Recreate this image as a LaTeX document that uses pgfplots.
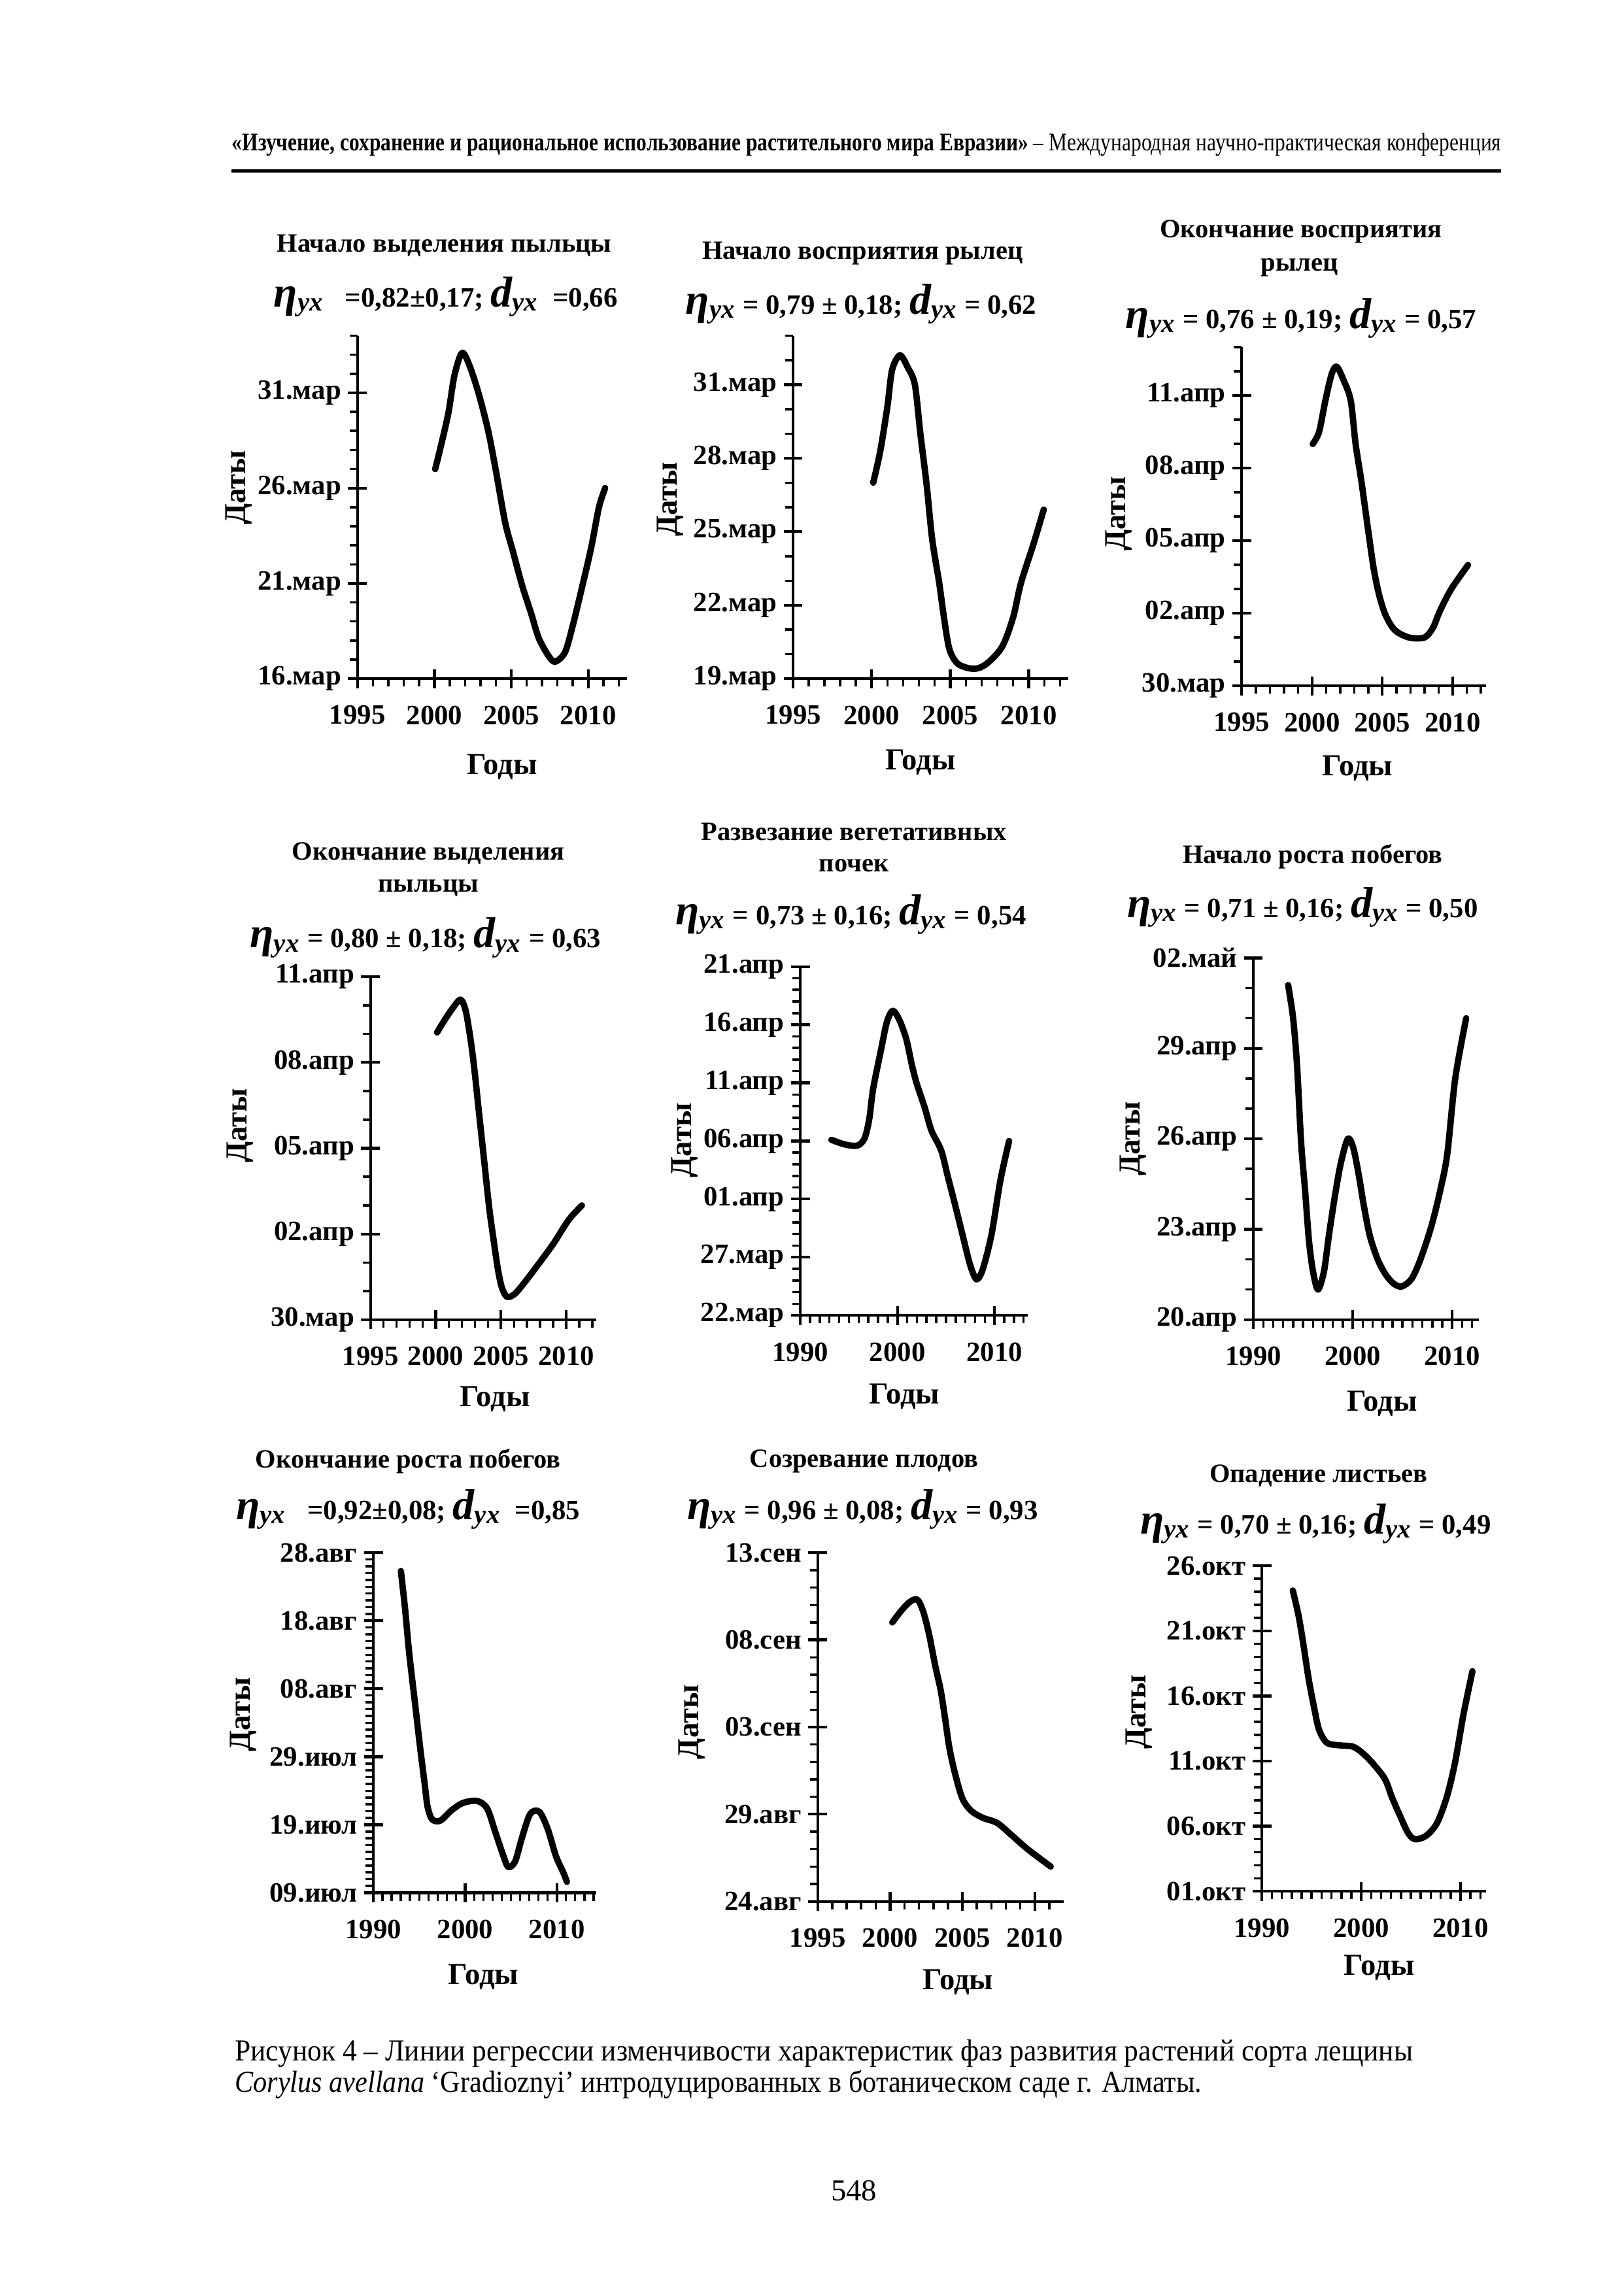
\documentclass[border=0pt]{standalone}
\usepackage{fontspec}
\setmainfont{Liberation Serif}
\usepackage{pgfplots}
\pgfplotsset{compat=1.18}

\pgfplotsset{
 crv/.style={black, no markers, line width=2.5pt, smooth, line cap=round, line join=round},
 panel/.style={
   scale only axis, anchor=south west,
   axis lines=left, axis line style={-, line width=1.1pt},
   tick align=center, major tick length=0.26cm,
   tick style={line width=1.1pt, black},
   extra x tick style={tick align=outside, major tick length=0.11cm, tick style={line width=0.9pt}},
   extra y tick style={tick align=outside, major tick length=0.11cm, tick style={line width=0.9pt}},
   extra x tick labels={}, extra y tick labels={},
   tick label style={font=\fontsize{11}{12}\selectfont\bfseries},
   xticklabel style={yshift=-0.12cm},
   yticklabel style={xshift=0.03cm},
   clip=false,
 }
}
\newcommand\ttl{\fontsize{10.4}{12}\selectfont\bfseries}
\newcommand\lbl{\fontsize{12}{13}\selectfont\bfseries}
\newcommand\frm[2]{{\fontsize{17}{17}\selectfont\bfseries\itshape η}\textsubscript{\fontsize{10.5}{11}\selectfont\bfseries\itshape yx}#1{\fontsize{17}{17}\selectfont\bfseries\itshape d}\textsubscript{\fontsize{10.5}{11}\selectfont\bfseries\itshape yx}#2}
\newcommand\ff{\fontsize{11}{13}\selectfont\bfseries}

\begin{document}
\begin{tikzpicture}
\fill[white] (0,0) rectangle (22.44,31.36);
\path[use as bounding box] (0,0) rectangle (22.44,31.36);

% header
\node[anchor=base west, inner sep=0] at (3.2,29.28) {\resizebox{17.54cm}{\height}{\fontsize{10}{12}\selectfont{\bfseries «Изучение, сохранение и рациональное использование растительного мира Евразии»} – Международная научно-практическая конференция}};
\draw[line width=1.3pt] (3.2,29.0) -- (20.74,29.0);

% ---------- Panel 1 ----------
\node[font=\ttl] at (6.14,27.96) {Начало выделения пыльцы};
\node[font=\ff] at (6.16,27.26) {\frm{\ \ \ =0,82±0,17; }{\ \ =0,66}};
\begin{axis}[panel, at={(4.94cm,21.98cm)}, width=3.72cm, height=4.74cm,
 xmin=1995, xmax=2012.5, ymin=16, ymax=34,
 xtick={1995,2000,2005,2010}, xticklabels={1995,2000,2005,2010},
 ytick={16,21,26,31}, yticklabels={16.мар,21.мар,26.мар,31.мар},
 extra x ticks={1996,...,2012}, extra y ticks={17,...,34}]
\addplot[crv] coordinates {(2000.05,27.0) (2000.3,27.8) (2000.9,29.9) (2001.3,31.9) (2001.8,33.1) (2002.3,32.4) (2002.9,30.9) (2003.5,29.0) (2004.0,26.9) (2004.6,24.2) (2005.1,22.7) (2005.7,20.9) (2006.3,19.4) (2006.8,18.1) (2007.5,17.1) (2007.9,16.9) (2008.5,17.4) (2009.0,18.8) (2009.6,20.8) (2010.2,22.9) (2010.7,25.0) (2011.1,26.0)};
\end{axis}
\node[font=\lbl] at (6.94,20.76) {Годы};
\node[font=\lbl, rotate=90] at (3.3,24.62) {Даты};

% ---------- Panel 2 ----------
\node[font=\ttl] at (11.92,27.86) {Начало восприятия рылец};
\node[font=\ff] at (11.9,27.16) {\frm{ = 0,79 ± 0,18; }{ = 0,62}};
\begin{axis}[panel, at={(10.96cm,21.98cm)}, width=3.8cm, height=4.74cm,
 xmin=1995, xmax=2012.5, ymin=19, ymax=33,
 xtick={1995,2000,2005,2010}, xticklabels={1995,2000,2005,2010},
 ytick={19,22,25,28,31}, yticklabels={19.мар,22.мар,25.мар,28.мар,31.мар},
 extra x ticks={1996,...,2012}, extra y ticks={20,...,33}]
\addplot[crv] coordinates {(2000.1,27.0) (2000.55,28.3) (2001.0,30.1) (2001.3,31.6) (2001.8,32.2) (2002.3,31.7) (2002.75,31.0) (2003.1,29.0) (2003.5,26.9) (2003.85,24.7) (2004.3,22.9) (2004.6,21.5) (2004.95,20.2) (2005.5,19.6) (2006.5,19.4) (2007.3,19.6) (2008.3,20.3) (2009.0,21.5) (2009.5,22.9) (2010.3,24.5) (2010.95,25.9)};
\end{axis}
\node[font=\lbl] at (12.72,20.82) {Годы};
\node[font=\lbl, rotate=90] at (9.26,24.46) {Даты};

% ---------- Panel 3 ----------
\node[font=\ttl] at (17.98,28.16) {Окончание восприятия};
\node[font=\ttl] at (17.96,27.66) {рылец};
\node[font=\ff] at (17.98,26.96) {\frm{ = 0,76 ± 0,19; }{ = 0,57}};
\begin{axis}[panel, at={(17.16cm,21.88cm)}, width=3.38cm, height=4.68cm,
 xmin=1995, xmax=2012.4, ymin=30, ymax=44,
 xtick={1995,2000,2005,2010}, xticklabels={1995,2000,2005,2010},
 ytick={30,33,36,39,42}, yticklabels={30.мар,02.апр,05.апр,08.апр,11.апр},
 extra x ticks={1996,...,2012}, extra y ticks={31,...,44}]
\addplot[crv] coordinates {(2000.05,40.0) (2000.5,40.5) (2000.95,41.8) (2001.4,42.9) (2001.75,43.2) (2002.2,42.7) (2002.75,41.8) (2003.1,40.0) (2003.5,38.5) (2004.0,36.4) (2004.4,34.8) (2004.8,33.7) (2005.25,32.9) (2005.9,32.3) (2006.9,32.0) (2008.0,32.0) (2008.6,32.4) (2009.1,33.1) (2009.9,34.0) (2011.1,35.0)};
\end{axis}
\node[font=\lbl] at (18.76,20.74) {Годы};
\node[font=\lbl, rotate=90] at (15.46,24.26) {Даты};

% ---------- Panel 4 ----------
\node[font=\ttl] at (5.92,19.56) {Окончание выделения};
\node[font=\ttl] at (5.92,19.08) {пыльцы};
\node[font=\ff] at (5.88,18.4) {\frm{ = 0,80 ± 0,18; }{ = 0,63}};
\begin{axis}[panel, at={(5.12cm,13.12cm)}, width=3.12cm, height=4.74cm,
 xmin=1995, xmax=2012.3, ymin=30, ymax=42,
 xtick={1995,2000,2005,2010}, xticklabels={1995,2000,2005,2010},
 ytick={30,33,36,39,42}, yticklabels={30.мар,02.апр,05.апр,08.апр,11.апр},
 extra x ticks={1996,...,2012}, extra y ticks={31,...,41}]
\addplot[crv] coordinates {(2000.1,40.05) (2000.7,40.5) (2001.3,40.9) (2001.9,41.2) (2002.3,40.8) (2002.7,39.7) (2003.0,38.6) (2003.3,37.3) (2003.7,35.6) (2004.1,33.9) (2004.4,32.9) (2004.75,31.8) (2005.05,31.15) (2005.45,30.8) (2006.05,30.9) (2006.8,31.3) (2007.8,31.9) (2009.0,32.65) (2010.2,33.5) (2011.2,34.0)};
\end{axis}
\node[font=\lbl] at (6.84,12.02) {Годы};
\node[font=\lbl, rotate=90] at (3.32,15.8) {Даты};

% ---------- Panel 5 ----------
\node[font=\ttl] at (11.8,19.86) {Развезание вегетативных};
\node[font=\ttl] at (11.8,19.4) {почек};
\node[font=\ff] at (11.76,18.72) {\frm{ = 0,73 ± 0,16; }{ = 0,54}};
\begin{axis}[panel, at={(11.06cm,13.18cm)}, width=3.14cm, height=4.82cm,
 xmin=1990, xmax=2013.4, ymin=22, ymax=52,
 xtick={1990,2000,2010}, xticklabels={1990,2000,2010},
 ytick={22,27,32,37,42,47,52}, yticklabels={22.мар,27.мар,01.апр,06.апр,11.апр,16.апр,21.апр},
 extra x ticks={1991,...,2013}, extra y ticks={23,...,51}]
\addplot[crv] coordinates {(1993.2,37.1) (1994.6,36.7) (1995.85,36.6) (1996.6,37.2) (1997.1,38.9) (1997.5,41.5) (1998.3,44.8) (1998.9,47.2) (1999.5,48.2) (2000.15,47.5) (2000.9,45.8) (2001.5,43.5) (2002.0,41.9) (2002.8,39.9) (2003.5,37.9) (2004.5,36.2) (2005.2,33.9) (2006.0,31.3) (2006.8,28.6) (2007.5,26.3) (2008.15,25.1) (2008.8,26.0) (2009.7,29.0) (2010.6,33.6) (2011.5,37.0)};
\end{axis}
\node[font=\lbl] at (12.5,12.06) {Годы};
\node[font=\lbl, rotate=90] at (9.46,15.6) {Даты};

% ---------- Panel 6 ----------
\node[font=\ttl] at (18.14,19.52) {Начало роста побегов};
\node[font=\ff] at (18.0,18.82) {\frm{ = 0,71 ± 0,16; }{ = 0,50}};
\begin{axis}[panel, at={(17.32cm,13.12cm)}, width=3.12cm, height=5.0cm,
 xmin=1990, xmax=2012.7, ymin=51, ymax=63,
 xtick={1990,2000,2010}, xticklabels={1990,2000,2010},
 ytick={51,54,57,60,63}, yticklabels={20.апр,23.апр,26.апр,29.апр,02.май},
 extra x ticks={1991,...,2012}, extra y ticks={52,...,62}]
\addplot[crv] coordinates {(1993.5,62.1) (1994.0,61.0) (1994.4,59.4) (1994.8,56.9) (1995.2,55.3) (1995.6,53.6) (1996.0,52.6) (1996.5,52.0) (1997.1,52.6) (1997.6,53.8) (1998.2,55.1) (1998.8,56.2) (1999.5,57.0) (2000.05,56.7) (2000.6,55.8) (2001.1,54.8) (2001.7,53.8) (2002.5,53.0) (2003.3,52.5) (2004.1,52.2) (2004.9,52.1) (2005.9,52.35) (2006.8,53.0) (2007.9,54.1) (2008.8,55.3) (2009.5,56.5) (2010.3,59.0) (2011.4,61.0)};
\end{axis}
\node[font=\lbl] at (19.1,11.96) {Годы};
\node[font=\lbl, rotate=90] at (15.66,15.62) {Даты};

% ---------- Panel 7 ----------
\node[font=\ttl] at (5.64,11.16) {Окончание роста побегов};
\node[font=\ff] at (5.64,10.5) {\frm{\ \ \ =0,92±0,08; }{\ \ =0,85}};
\begin{axis}[panel, at={(5.16cm,5.2cm)}, width=3.08cm, height=4.7cm,
 xmin=1990, xmax=2014.3, ymin=190, ymax=240,
 xtick={1990,2000,2010}, xticklabels={1990,2000,2010},
 ytick={190,200,210,220,230,240}, yticklabels={09.июл,19.июл,29.июл,08.авг,18.авг,28.авг},
 extra x ticks={1991,...,2014}, extra y ticks={191,...,239}]
\addplot[crv] coordinates {(1993.0,237.3) (1993.45,231.8) (1993.9,225.3) (1994.5,218.3) (1995.1,211.3) (1995.6,205.9) (1995.9,202.7) (1996.4,200.8) (1997.3,200.6) (1998.5,202.1) (1999.75,203.2) (2001.3,203.5) (2002.4,202.4) (2003.3,198.9) (2004.1,195.7) (2004.7,193.8) (2005.45,194.6) (2006.2,198.1) (2007.1,201.6) (2008.1,201.9) (2009.0,199.4) (2009.9,195.4) (2010.7,193.0) (2011.1,191.6)};
\end{axis}
\node[font=\lbl] at (6.68,4.04) {Годы};
\node[font=\lbl, rotate=90] at (3.36,7.66) {Даты};

% ---------- Panel 8 ----------
\node[font=\ttl] at (11.94,11.16) {Созревание плодов};
\node[font=\ff] at (11.92,10.5) {\frm{ = 0,96 ± 0,08; }{ = 0,93}};
\begin{axis}[panel, at={(11.3cm,5.08cm)}, width=3.4cm, height=4.82cm,
 xmin=1995, xmax=2012, ymin=236, ymax=256,
 xtick={1995,2000,2005,2010}, xticklabels={1995,2000,2005,2010},
 ytick={236,241,246,251,256}, yticklabels={24.авг,29.авг,03.сен,08.сен,13.сен},
 extra x ticks={1996,...,2011}, extra y ticks={237,...,255}]
\addplot[crv] coordinates {(2000.15,252.0) (2000.8,252.7) (2001.4,253.2) (2001.9,253.3) (2002.3,252.6) (2002.7,251.3) (2003.1,249.6) (2003.5,248.1) (2003.8,246.5) (2004.1,244.8) (2004.5,243.3) (2005.0,241.9) (2005.6,241.2) (2006.4,240.8) (2007.4,240.5) (2008.4,239.8) (2009.5,239.0) (2011.1,238.0)};
\end{axis}
\node[font=\lbl] at (13.24,3.96) {Годы};
\node[font=\lbl, rotate=90] at (9.56,7.56) {Даты};

% ---------- Panel 9 ----------
\node[font=\ttl] at (18.22,10.96) {Опадение листьев};
\node[font=\ff] at (18.18,10.3) {\frm{ = 0,70 ± 0,16; }{ = 0,49}};
\begin{axis}[panel, at={(17.44cm,5.22cm)}, width=3.1cm, height=4.5cm,
 xmin=1990, xmax=2012.6, ymin=274, ymax=299,
 xtick={1990,2000,2010}, xticklabels={1990,2000,2010},
 ytick={274,279,284,289,294,299}, yticklabels={01.окт,06.окт,11.окт,16.окт,21.окт,26.окт},
 extra x ticks={1991,...,2012}, extra y ticks={275,...,298}]
\addplot[crv] coordinates {(1993.1,297.1) (1993.7,295.1) (1994.2,292.8) (1994.7,290.3) (1995.25,288.1) (1995.75,286.4) (1996.55,285.4) (1997.9,285.2) (1999.2,285.1) (2000.3,284.5) (2001.3,283.7) (2002.4,282.6) (2003.1,281.2) (2003.9,279.8) (2004.7,278.5) (2005.4,278.0) (2006.5,278.25) (2007.6,279.2) (2008.6,281.2) (2009.45,283.9) (2010.3,287.6) (2011.2,290.9)};
\end{axis}
\node[font=\lbl] at (19.06,4.16) {Годы};
\node[font=\lbl, rotate=90] at (15.74,7.7) {Даты};

% caption
\node[anchor=base west, inner sep=0] at (3.24,2.88) {\resizebox{16.28cm}{\height}{\fontsize{12}{14}\selectfont Рисунок 4 – Линии регрессии изменчивости характеристик фаз развития растений сорта лещины}};
\node[anchor=base west, inner sep=0] at (3.24,2.44) {\resizebox{13.36cm}{\height}{\fontsize{12}{14}\selectfont \textit{Corylus avellana} ‘Gradioznyi’ интродуцированных в ботаническом саде г. Алматы.}};
\node[anchor=base, font=\fontsize{12}{14}\selectfont] at (11.8,0.94) {548};
\end{tikzpicture}
\end{document}
